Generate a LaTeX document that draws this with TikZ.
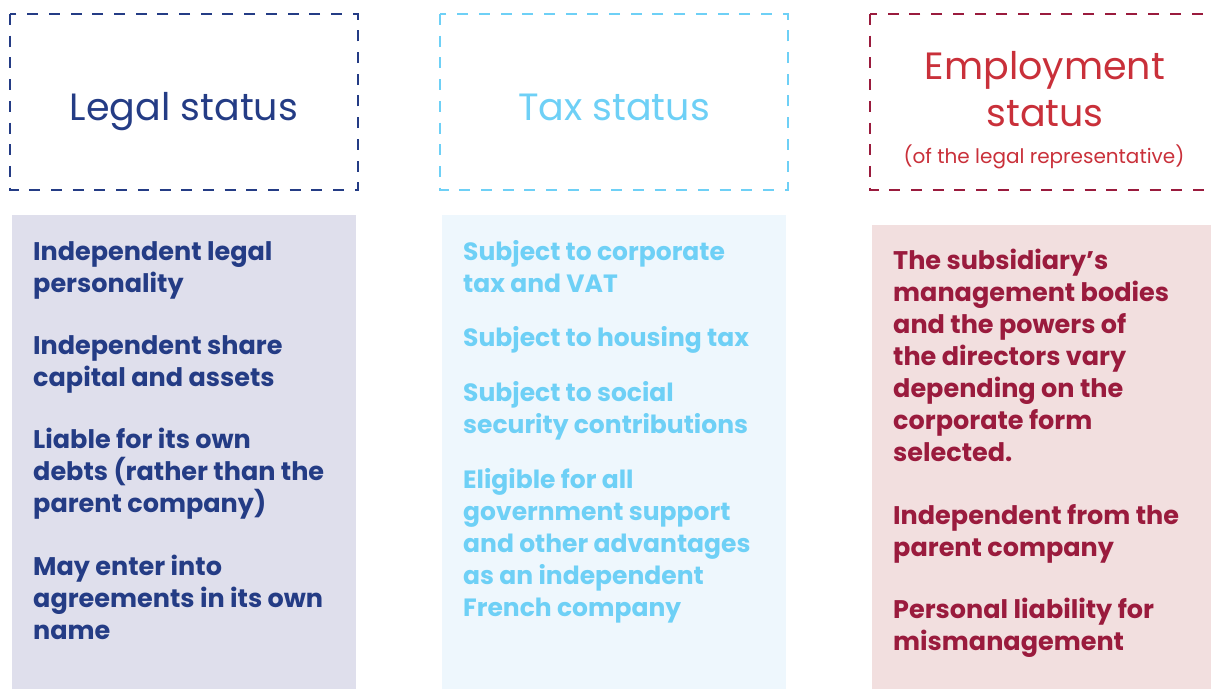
\documentclass[tikz,border=0pt]{standalone}
\usepackage{fontspec}
\setmainfont{Poppins}
\definecolor{legalblue}{HTML}{243C85}
\definecolor{legalfill}{HTML}{DFDFEC}
\definecolor{taxblue}{HTML}{6ED0F6}
\definecolor{taxfill}{HTML}{EEF7FD}
\definecolor{empred}{HTML}{C9303A}
\definecolor{empdark}{HTML}{9A1B3D}
\definecolor{empfill}{HTML}{F2DFDF}
\begin{document}
\begin{tikzpicture}[x=1pt,y=-1pt,
  frame/.style={dash pattern=on 11pt off 10.7pt,line width=2.9pt},
  heading/.style={anchor=base,inner sep=0pt,font=\fontsize{38}{44}\selectfont},
  item/.style={anchor=base west,align=left,inner sep=0pt,
    font=\fontsize{25.5}{32}\selectfont\bfseries},
  taxitem/.style={item,font=\fontsize{25}{32}\selectfont\bfseries}]
  \clip (0,0) rectangle (1211,689);
  % panels
  \fill[legalfill] (12,215) rectangle (356,689);
  \fill[taxfill] (442,215) rectangle (786,689);
  \fill[empfill] (872,225) rectangle (1211,689);
  \draw[frame,legalblue] (10,14) rectangle (358,190);
  \draw[frame,taxblue] (440,14) rectangle (788,190);
  \draw[frame,empdark] (870,14) rectangle (1240,190);
  % headings
  \node[heading,text=legalblue] (legal) at (184,120) {Legal status};
  \node[heading,text=taxblue] (tax) at (614,120) {Tax status};
  \node[heading,text=empred] (employ) at (1045,79) {Employment};
  \node[heading,text=empred] (employ2) at (1045,126) {status};
  \node[heading,text=empred,font=\fontsize{20}{24}\selectfont] (employ3)
    at (1044,163) {(of the legal representative)};
  % legal status (nodes sit on the baseline of their last line)
  \node[item,text=legalblue] (legal1) at (33,292) {Independent legal\\personality};
  \node[item,text=legalblue] (legal2) at (33,386) {Independent share\\capital and assets};
  \node[item,text=legalblue] (legal3) at (33,512) {Liable for its own\\debts (rather than the\\parent company)};
  \node[item,text=legalblue] (legal4) at (33,639) {May enter into\\agreements in its own\\name};
  % tax status
  \node[taxitem,text=taxblue] (tax1) at (463,292) {Subject to corporate\\tax and VAT};
  \node[taxitem,text=taxblue] (tax2) at (463,346) {Subject to housing tax};
  \node[taxitem,text=taxblue] (tax3) at (463,433) {Subject to social\\security contributions};
  \node[taxitem,text=taxblue] (tax4) at (463,616) {Eligible for all\\government support\\and other advantages\\as an independent\\French company};
  % employment status
  \node[item,text=empdark] (employ4) at (893,461) {The subsidiary’s\\management bodies\\and the powers of\\the directors vary\\depending on the\\corporate form\\selected.};
  \node[item,text=empdark] (employ5) at (893,556) {Independent from the\\parent company};
  \node[item,text=empdark] (employ6) at (893,650) {Personal liability for\\mismanagement};
\end{tikzpicture}
\end{document}
